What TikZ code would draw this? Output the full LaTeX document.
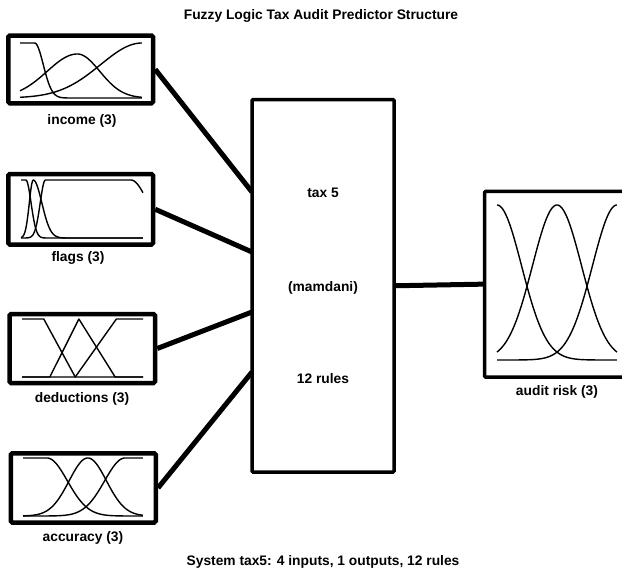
\documentclass[tikz,border=0pt]{standalone}
\usepackage{fontspec}
\setmainfont{Liberation Sans}
\begin{document}
\begin{tikzpicture}[x=1pt,y=-1pt,
  declare function={
    gs(\xv,\cv,\sv)=exp(max(-9,-((\xv-\cv)/\sv)*((\xv-\cv)/\sv)));
    gtwo(\xv,\cv,\av,\bv)=ifthenelse(\xv<\cv,gs(\xv,\cv,\av),gs(\xv,\cv,\bv));
    zsh(\xv,\cv,\sv)=ifthenelse(\xv<\cv,1,gs(\xv,\cv,\sv));
    ssh(\xv,\cv,\sv)=ifthenelse(\xv>\cv,1,gs(\xv,\cv,\sv));
  },
  mfbox/.style={draw, line width=4.5pt, rounded corners=1.5pt, inner sep=0pt, fill=white},
  sysbox/.style={draw, line width=3.5pt, rounded corners=1pt, inner sep=0pt, fill=white},
  mf/.style={line width=1.4pt, line join=round},
  wire/.style={line width=5pt},
  lbl/.style={anchor=base, inner sep=0pt, font=\bfseries\fontsize{13.8}{16}\selectfont},
  mfarea/.style n args={4}{shift={(#1pt,-#2pt)}, x=#3pt, y=#4pt},
  curve/.style={mf, domain=0:1, samples=160}
]
% page
\fill[white] (0,0) rectangle (622,571);
\useasboundingbox (0,0) rectangle (622,571);

% input variable boxes
\node[mfbox, minimum width=144.7pt, minimum height=67.8pt] (income) at (80.65,69.4) {};
\node[mfbox, minimum width=144.7pt, minimum height=70.5pt] (flags) at (80.65,209.25) {};
\node[mfbox, minimum width=145.5pt, minimum height=69pt] (deductions) at (82.25,348.5) {};
\node[mfbox, minimum width=145pt, minimum height=69.2pt] (accuracy) at (83.3,487.9) {};

% inference system and output
\node[sysbox, minimum width=142pt, minimum height=372.5pt] (rules) at (323,285.75) {};
\node[sysbox, minimum width=155.3pt, minimum height=185.7pt] (audit) at (562.35,284.15) {};

% input ports on the rule block
\coordinate (in1) at (252,192);
\coordinate (in2) at (252,252);
\coordinate (in3) at (252,312);
\coordinate (in4) at (252,372);

% connectors
\draw[wire] (income.east) -- (in1);
\draw[wire] (flags.east) -- (in2);
\draw[wire] (deductions.east) -- (in3);
\draw[wire] (accuracy.east) -- (in4);
\draw[wire] (rules.east) -- (audit.west);

% membership functions: income
\begin{scope}[mfarea={20}{98}{122}{55}]
  \draw[curve] plot (\x,{zsh(\x,0.12,0.1)});
  \draw[curve] plot (\x,{0.8*gtwo(\x,0.47,0.35,0.26)});
  \draw[curve] plot (\x,{gs(\x,1,0.48)});
\end{scope}

% membership functions: flags
\begin{scope}[mfarea={21}{238}{122}{58}]
  \draw[curve] plot (\x,{zsh(\x,0.04,0.06)});
  \draw[curve] plot (\x,{gtwo(\x,0.1,0.045,0.1)});
  \draw[curve] plot (\x,{ifthenelse(\x<0.2,gs(\x,0.2,0.06),ifthenelse(\x<0.9,1,gs(\x,0.9,0.2)))});
\end{scope}

% membership functions: deductions
\begin{scope}[mfarea={22}{377}{121}{58}]
  \draw[mf] (0,1) -- (0.18,1) -- (0.44,0) -- (1,0);
  \draw[mf] (0,0) -- (0.23,0) -- (0.47,1) -- (0.77,0) -- (1,0);
  \draw[mf] (0,0) -- (0.44,0) -- (0.78,1) -- (1,1);
\end{scope}

% membership functions: accuracy
\begin{scope}[mfarea={23}{516}{120}{58}]
  \draw[curve] plot (\x,{zsh(\x,0.2,0.24)});
  \draw[curve] plot (\x,{gs(\x,0.54,0.22)});
  \draw[curve] plot (\x,{ssh(\x,0.85,0.24)});
\end{scope}

% membership functions: audit risk
\begin{scope}[mfarea={497}{360}{120}{155}]
  \draw[curve] plot (\x,{gs(\x,0,0.29)});
  \draw[curve] plot (\x,{gs(\x,0.5,0.29)});
  \draw[curve] plot (\x,{gs(\x,1,0.29)});
\end{scope}

% texts
\node[lbl] (title) at (321,19) {Fuzzy Logic Tax Audit Predictor Structure};
\node[lbl] (summary) at (323,565) {System tax5: 4 inputs, 1 outputs, 12 rules};
\node[lbl] (incomelbl) at (82,124) {income (3)};
\node[lbl] (flagslbl) at (78,261) {flags (3)};
\node[lbl] (deductionslbl) at (82,402) {deductions (3)};
\node[lbl] (accuracylbl) at (83,541) {accuracy (3)};
\node[lbl] (auditlbl) at (557,395) {audit risk (3)};
\node[lbl] (sysname) at (323,197) {tax 5};
\node[lbl] (sysmethod) at (323,291) {(mamdani)};
\node[lbl] (syscount) at (323,383) {12 rules};
\end{tikzpicture}
\end{document}
